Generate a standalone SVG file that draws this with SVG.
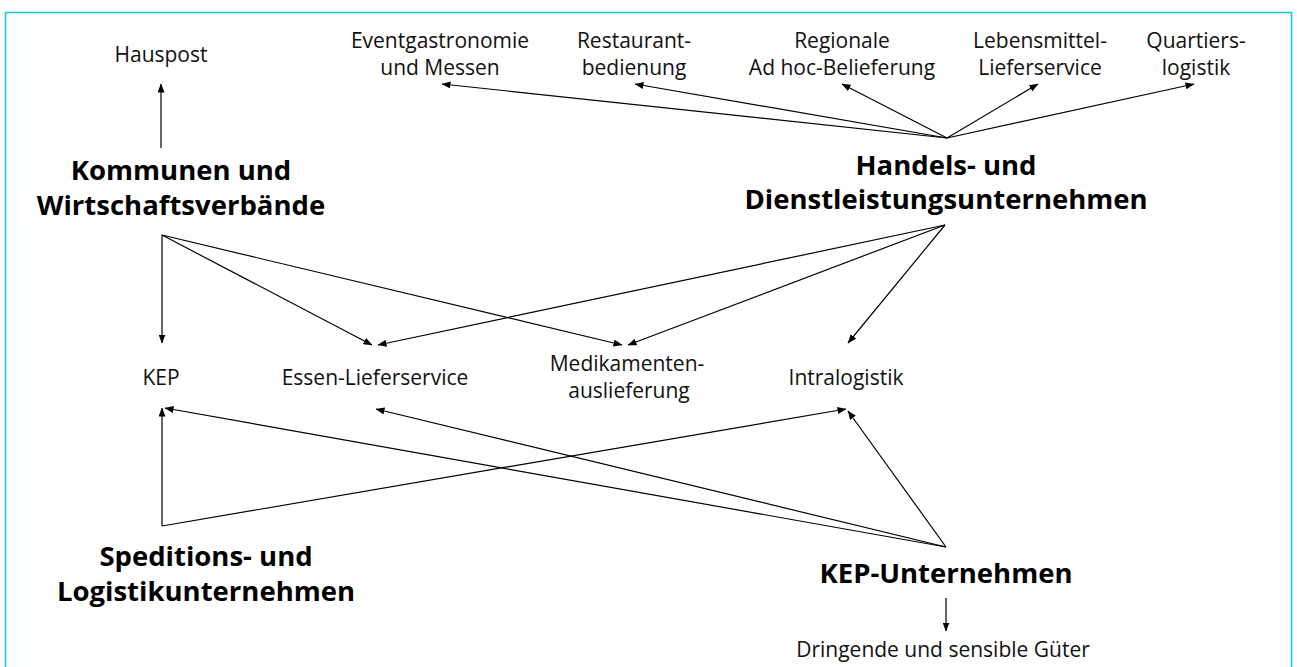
<svg xmlns="http://www.w3.org/2000/svg" width="1297" height="667" viewBox="0 0 1297 667">
  <style>
    .frame { fill: #ffffff; stroke: #22c6da; stroke-width: 1.6; }
    .lbl { font-family: "Open Sans", "Noto Sans", "Liberation Sans", sans-serif; font-size: 21px; fill: #111111; text-anchor: middle; }
    .head { font-family: "Open Sans", "Noto Sans", "Liberation Sans", sans-serif; font-size: 27.5px; font-weight: bold; fill: #000000; text-anchor: middle; }
    .edge { stroke: #000000; stroke-width: 1.2; fill: none; marker-end: url(#tip); }
  </style>
  <defs>
    <marker id="tip" markerUnits="userSpaceOnUse" markerWidth="9" markerHeight="7" refX="8.5" refY="3.5" orient="auto">
      <path d="M0,0 L9,3.5 L0,7 z" fill="#000000"/>
    </marker>
  </defs>

  <rect class="frame" x="5.5" y="12.5" width="1286" height="680"/>

  <g id="connectors">
    <line class="edge" x1="161" y1="148" x2="161" y2="84"/>
    <line class="edge" x1="162" y1="235" x2="162" y2="343"/>
    <line class="edge" x1="162" y1="235" x2="372" y2="345"/>
    <line class="edge" x1="162" y1="235" x2="622" y2="345"/>
    <line class="edge" x1="945" y1="225" x2="378" y2="345"/>
    <line class="edge" x1="945" y1="225" x2="628" y2="345"/>
    <line class="edge" x1="945" y1="225" x2="848" y2="343"/>
    <line class="edge" x1="947" y1="138" x2="442" y2="84"/>
    <line class="edge" x1="947" y1="138" x2="635" y2="84"/>
    <line class="edge" x1="947" y1="138" x2="842" y2="84"/>
    <line class="edge" x1="947" y1="138" x2="1038" y2="84"/>
    <line class="edge" x1="947" y1="138" x2="1194" y2="84"/>
    <line class="edge" x1="162" y1="526" x2="162" y2="408"/>
    <line class="edge" x1="162" y1="526" x2="846" y2="409"/>
    <line class="edge" x1="946" y1="547" x2="165" y2="408"/>
    <line class="edge" x1="946" y1="547" x2="376" y2="409"/>
    <line class="edge" x1="946" y1="547" x2="848" y2="411"/>
    <line class="edge" x1="946" y1="598" x2="946" y2="631"/>
  </g>

  <g id="kommunen">
    <text class="head" x="181" y="180">Kommunen und</text>
    <text class="head" x="181" y="215">Wirtschaftsverbände</text>
  </g>
  <g id="handel">
    <text class="head" x="946" y="175">Handels- und</text>
    <text class="head" x="946" y="209">Dienstleistungsunternehmen</text>
  </g>
  <g id="speditionen">
    <text class="head" x="206" y="566">Speditions- und</text>
    <text class="head" x="206" y="601">Logistikunternehmen</text>
  </g>
  <g id="kep-unternehmen">
    <text class="head" x="946" y="583">KEP-Unternehmen</text>
  </g>

  <g id="hauspost"><text class="lbl" x="161" y="62">Hauspost</text></g>
  <g id="eventgastronomie">
    <text class="lbl" x="440" y="48">Eventgastronomie</text>
    <text class="lbl" x="440" y="75">und Messen</text>
  </g>
  <g id="restaurant">
    <text class="lbl" x="634" y="48">Restaurant-</text>
    <text class="lbl" x="634" y="75">bedienung</text>
  </g>
  <g id="regionale">
    <text class="lbl" x="842" y="48">Regionale</text>
    <text class="lbl" x="842" y="75">Ad hoc-Belieferung</text>
  </g>
  <g id="lebensmittel">
    <text class="lbl" x="1040" y="48">Lebensmittel-</text>
    <text class="lbl" x="1040" y="75">Lieferservice</text>
  </g>
  <g id="quartier">
    <text class="lbl" x="1196" y="48">Quartiers-</text>
    <text class="lbl" x="1196" y="75">logistik</text>
  </g>
  <g id="kep"><text class="lbl" x="161" y="385">KEP</text></g>
  <g id="essen"><text class="lbl" x="375" y="385">Essen-Lieferservice</text></g>
  <g id="medikamente">
    <text class="lbl" x="627" y="371">Medikamenten-</text>
    <text class="lbl" x="629" y="398">auslieferung</text>
  </g>
  <g id="intralogistik"><text class="lbl" x="846" y="385">Intralogistik</text></g>
  <g id="dringend"><text class="lbl" x="943" y="657">Dringende und sensible Güter</text></g>
</svg>
